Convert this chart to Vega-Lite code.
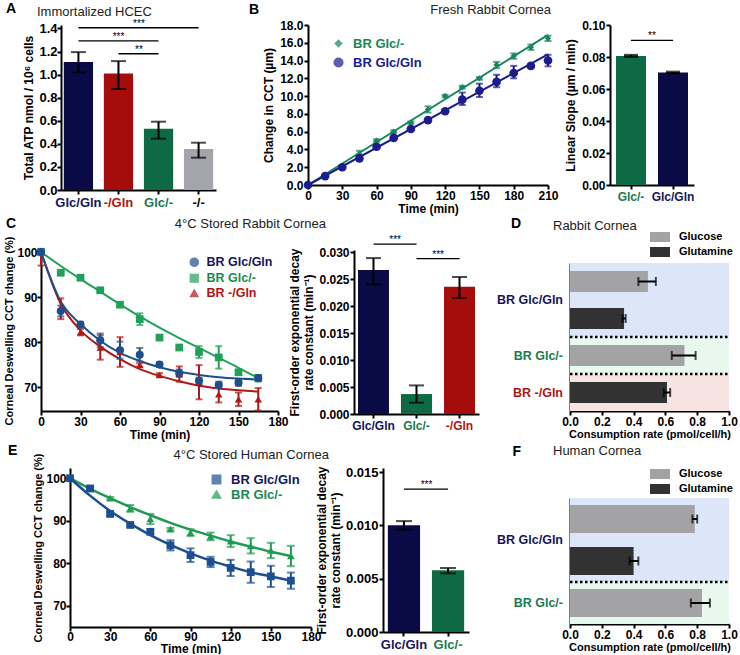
{
"$schema": "https://vega.github.io/schema/vega-lite/v6.json",
"padding": {"left": 3, "top": 2, "right": 0, "bottom": 0},
"background": "white",
"config": {
 "font": "Liberation Sans",
 "view": {"stroke": null},
 "axis": {"domainColor": "#000", "domainWidth": 2, "tickColor": "#000", "tickWidth": 2, "tickSize": 4, "labelFontSize": 12, "labelFontWeight": "bold", "labelColor": "#000", "labelPadding": 1, "titleFontSize": 12, "titleFontWeight": "bold", "titleColor": "#000", "titlePadding": 1, "grid": false, "labelFont": "Liberation Sans", "titleFont": "Liberation Sans", "labelOverlap": false, "labelFlush": false},
 "legend": {"labelFont": "Liberation Sans", "labelFontSize": 12.5, "labelFontWeight": "bold"},
 "title": {"font": "Liberation Sans", "fontSize": 13, "fontWeight": "normal", "color": "#222", "baseline": "alphabetic"},
 "text": {"font": "Liberation Sans"}
},
"datasets": {
 "A": [
  {"group": "Glc/Gln", "atp": 1.11, "lo": 1.02, "hi": 1.195},
  {"group": "-/Gln", "atp": 1.01, "lo": 0.875, "hi": 1.117},
  {"group": "Glc/-", "atp": 0.53, "lo": 0.445, "hi": 0.592},
  {"group": "-/-", "atp": 0.355, "lo": 0.28, "hi": 0.41}
 ],
 "Asig": [
  {"from": "Glc/Gln", "to": "-/-", "y": 1.406, "stars": "***", "mid": "-/Gln", "at": "edge"},
  {"from": "Glc/Gln", "to": "Glc/-", "y": 1.292, "stars": "***", "mid": "-/Gln", "at": "center"},
  {"from": "-/Gln", "to": "Glc/-", "y": 1.181, "stars": "**", "mid": "-/Gln", "at": "edge"}
 ],
 "Bfit": [
  {"series": "BR Glc/-", "t": 0, "y": 0}, {"series": "BR Glc/-", "t": 210, "y": 16.9},
  {"series": "BR Glc/Gln", "t": 0, "y": 0}, {"series": "BR Glc/Gln", "t": 210, "y": 14.7}
 ],
 "B": [
  {"series": "BR Glc/-", "t": 0, "y": 0, "lo": 0, "hi": 0},
  {"series": "BR Glc/-", "t": 15, "y": 1.0, "lo": 0.9, "hi": 1.1},
  {"series": "BR Glc/-", "t": 30, "y": 2.1, "lo": 2.0, "hi": 2.2},
  {"series": "BR Glc/-", "t": 45, "y": 3.5, "lo": 3.15, "hi": 3.85},
  {"series": "BR Glc/-", "t": 60, "y": 5.0, "lo": 4.85, "hi": 5.15},
  {"series": "BR Glc/-", "t": 75, "y": 6.0, "lo": 5.85, "hi": 6.15},
  {"series": "BR Glc/-", "t": 90, "y": 7.0, "lo": 6.85, "hi": 7.15},
  {"series": "BR Glc/-", "t": 105, "y": 8.5, "lo": 8.15, "hi": 8.85},
  {"series": "BR Glc/-", "t": 120, "y": 10.0, "lo": 9.85, "hi": 10.15},
  {"series": "BR Glc/-", "t": 135, "y": 11.0, "lo": 10.85, "hi": 11.15},
  {"series": "BR Glc/-", "t": 150, "y": 12.0, "lo": 11.85, "hi": 12.15},
  {"series": "BR Glc/-", "t": 165, "y": 13.5, "lo": 13.15, "hi": 13.85},
  {"series": "BR Glc/-", "t": 180, "y": 14.5, "lo": 14.2, "hi": 14.8},
  {"series": "BR Glc/-", "t": 195, "y": 15.5, "lo": 15.2, "hi": 15.8},
  {"series": "BR Glc/-", "t": 210, "y": 16.5, "lo": 16.2, "hi": 16.8},
  {"series": "BR Glc/Gln", "t": 0, "y": 0, "lo": 0, "hi": 0},
  {"series": "BR Glc/Gln", "t": 15, "y": 1.0, "lo": 0.9, "hi": 1.1},
  {"series": "BR Glc/Gln", "t": 30, "y": 2.0, "lo": 1.9, "hi": 2.1},
  {"series": "BR Glc/Gln", "t": 45, "y": 3.0, "lo": 2.75, "hi": 3.25},
  {"series": "BR Glc/Gln", "t": 60, "y": 4.3, "lo": 4.15, "hi": 4.45},
  {"series": "BR Glc/Gln", "t": 75, "y": 5.3, "lo": 5.15, "hi": 5.45},
  {"series": "BR Glc/Gln", "t": 90, "y": 6.3, "lo": 6.15, "hi": 6.45},
  {"series": "BR Glc/Gln", "t": 105, "y": 7.3, "lo": 7.15, "hi": 7.45},
  {"series": "BR Glc/Gln", "t": 120, "y": 8.3, "lo": 8.15, "hi": 8.45},
  {"series": "BR Glc/Gln", "t": 135, "y": 9.6, "lo": 9.0, "hi": 10.4},
  {"series": "BR Glc/Gln", "t": 150, "y": 10.6, "lo": 9.9, "hi": 11.4},
  {"series": "BR Glc/Gln", "t": 165, "y": 11.6, "lo": 11.0, "hi": 12.4},
  {"series": "BR Glc/Gln", "t": 180, "y": 12.6, "lo": 12.0, "hi": 13.4},
  {"series": "BR Glc/Gln", "t": 195, "y": 13.4, "lo": 13.15, "hi": 13.6},
  {"series": "BR Glc/Gln", "t": 210, "y": 14.0, "lo": 13.35, "hi": 14.65}
 ],
 "Bbar": [
  {"group": "Glc/-", "slope": 0.0807, "lo": 0.0802, "hi": 0.0812},
  {"group": "Glc/Gln", "slope": 0.0703, "lo": 0.0699, "hi": 0.0707}
 ],
 "Bsig": [{"from": "Glc/-", "to": "Glc/Gln", "y": 0.0904, "stars": "**", "mid": "Glc/-"}],
 "Cfit": [
  {"series": "BR -/Gln", "t": 0, "y": 100}, {"series": "BR -/Gln", "t": 15, "y": 88.5}, {"series": "BR -/Gln", "t": 30, "y": 82.6}, {"series": "BR -/Gln", "t": 45, "y": 79.0}, {"series": "BR -/Gln", "t": 60, "y": 76.2}, {"series": "BR -/Gln", "t": 75, "y": 74.0}, {"series": "BR -/Gln", "t": 90, "y": 72.5}, {"series": "BR -/Gln", "t": 105, "y": 71.3}, {"series": "BR -/Gln", "t": 120, "y": 70.3}, {"series": "BR -/Gln", "t": 135, "y": 69.7}, {"series": "BR -/Gln", "t": 150, "y": 69.3}, {"series": "BR -/Gln", "t": 165, "y": 69.0},
  {"series": "BR Glc/-", "t": 0, "y": 100}, {"series": "BR Glc/-", "t": 15, "y": 96.9}, {"series": "BR Glc/-", "t": 30, "y": 94.0}, {"series": "BR Glc/-", "t": 45, "y": 91.2}, {"series": "BR Glc/-", "t": 60, "y": 88.4}, {"series": "BR Glc/-", "t": 75, "y": 85.7}, {"series": "BR Glc/-", "t": 90, "y": 83.2}, {"series": "BR Glc/-", "t": 105, "y": 80.9}, {"series": "BR Glc/-", "t": 120, "y": 78.7}, {"series": "BR Glc/-", "t": 135, "y": 76.5}, {"series": "BR Glc/-", "t": 150, "y": 74.3}, {"series": "BR Glc/-", "t": 165, "y": 72.0},
  {"series": "BR Glc/Gln", "t": 0, "y": 100}, {"series": "BR Glc/Gln", "t": 15, "y": 89.0}, {"series": "BR Glc/Gln", "t": 30, "y": 84.0}, {"series": "BR Glc/Gln", "t": 45, "y": 80.3}, {"series": "BR Glc/Gln", "t": 60, "y": 77.6}, {"series": "BR Glc/Gln", "t": 75, "y": 75.8}, {"series": "BR Glc/Gln", "t": 90, "y": 74.4}, {"series": "BR Glc/Gln", "t": 105, "y": 73.4}, {"series": "BR Glc/Gln", "t": 120, "y": 72.7}, {"series": "BR Glc/Gln", "t": 135, "y": 72.2}, {"series": "BR Glc/Gln", "t": 150, "y": 71.9}, {"series": "BR Glc/Gln", "t": 165, "y": 71.7}
 ],
 "C": [
  {"series": "BR -/Gln", "t": 0, "y": 100, "lo": 97, "hi": 100},
  {"series": "BR -/Gln", "t": 15, "y": 87.4, "lo": 85.1, "hi": 89.7},
  {"series": "BR -/Gln", "t": 30, "y": 82.2, "lo": 81.5, "hi": 82.9},
  {"series": "BR -/Gln", "t": 45, "y": 78.8, "lo": 76.1, "hi": 81.5},
  {"series": "BR -/Gln", "t": 60, "y": 77.8, "lo": 74.5, "hi": 81.1},
  {"series": "BR -/Gln", "t": 75, "y": 74.9, "lo": 74.5, "hi": 75.3},
  {"series": "BR -/Gln", "t": 90, "y": 72.7, "lo": 72.3, "hi": 73.1},
  {"series": "BR -/Gln", "t": 105, "y": 72.9, "lo": 71.2, "hi": 74.6},
  {"series": "BR -/Gln", "t": 120, "y": 71.1, "lo": 67.3, "hi": 74.9},
  {"series": "BR -/Gln", "t": 135, "y": 68.4, "lo": 66.6, "hi": 70.2},
  {"series": "BR -/Gln", "t": 150, "y": 67.3, "lo": 65.8, "hi": 68.8},
  {"series": "BR -/Gln", "t": 165, "y": 67.3, "lo": 64.8, "hi": 69.8},
  {"series": "BR Glc/-", "t": 0, "y": 100, "lo": 100, "hi": 100},
  {"series": "BR Glc/-", "t": 15, "y": 95.4, "lo": 95.1, "hi": 95.7},
  {"series": "BR Glc/-", "t": 30, "y": 94.3, "lo": 94.0, "hi": 94.6},
  {"series": "BR Glc/-", "t": 45, "y": 91.5, "lo": 91.2, "hi": 91.8},
  {"series": "BR Glc/-", "t": 60, "y": 88.3, "lo": 88.0, "hi": 88.6},
  {"series": "BR Glc/-", "t": 75, "y": 85.1, "lo": 83.8, "hi": 86.4},
  {"series": "BR Glc/-", "t": 90, "y": 81.0, "lo": 80.7, "hi": 81.3},
  {"series": "BR Glc/-", "t": 105, "y": 78.8, "lo": 78.5, "hi": 79.1},
  {"series": "BR Glc/-", "t": 120, "y": 77.8, "lo": 76.5, "hi": 79.1},
  {"series": "BR Glc/-", "t": 135, "y": 76.6, "lo": 74.1, "hi": 79.1},
  {"series": "BR Glc/-", "t": 150, "y": 73.3, "lo": 72.8, "hi": 73.8},
  {"series": "BR Glc/-", "t": 165, "y": 72.0, "lo": 71.3, "hi": 72.7},
  {"series": "BR Glc/Gln", "t": 0, "y": 100, "lo": 99.3, "hi": 100.7},
  {"series": "BR Glc/Gln", "t": 15, "y": 86.9, "lo": 85.7, "hi": 88.1},
  {"series": "BR Glc/Gln", "t": 30, "y": 83.9, "lo": 83.3, "hi": 84.5},
  {"series": "BR Glc/Gln", "t": 45, "y": 80.4, "lo": 78.9, "hi": 81.9},
  {"series": "BR Glc/Gln", "t": 60, "y": 78.2, "lo": 76.3, "hi": 80.1},
  {"series": "BR Glc/Gln", "t": 75, "y": 77.2, "lo": 75.7, "hi": 78.7},
  {"series": "BR Glc/Gln", "t": 90, "y": 75.0, "lo": 74.5, "hi": 75.5},
  {"series": "BR Glc/Gln", "t": 105, "y": 73.1, "lo": 72.3, "hi": 73.9},
  {"series": "BR Glc/Gln", "t": 120, "y": 71.4, "lo": 70.7, "hi": 72.1},
  {"series": "BR Glc/Gln", "t": 135, "y": 70.5, "lo": 69.8, "hi": 71.2},
  {"series": "BR Glc/Gln", "t": 150, "y": 71.0, "lo": 70.3, "hi": 71.7},
  {"series": "BR Glc/Gln", "t": 165, "y": 72.0, "lo": 71.3, "hi": 72.7}
 ],
 "Cbar": [
  {"group": "Glc/Gln", "k": 0.0267, "lo": 0.0240, "hi": 0.0289},
  {"group": "Glc/-", "k": 0.0037, "lo": 0.0021, "hi": 0.0053},
  {"group": "-/Gln", "k": 0.0236, "lo": 0.0215, "hi": 0.0254}
 ],
 "Csig": [
  {"from": "Glc/Gln", "to": "Glc/-", "y": 0.0315, "stars": "***", "mid": "Glc/Gln"},
  {"from": "Glc/-", "to": "-/Gln", "y": 0.0288, "stars": "***", "mid": "Glc/-"}
 ],
 "D": [
  {"cond": "BR Glc/Gln", "bar": "Glc/Gln Glucose", "nutrient": "Glucose", "rate": 0.49, "lo": 0.43, "hi": 0.54},
  {"cond": "BR Glc/Gln", "bar": "Glc/Gln Glutamine", "nutrient": "Glutamine", "rate": 0.34, "lo": 0.33, "hi": 0.35},
  {"cond": "BR Glc/-", "bar": "Glc/- Glucose", "nutrient": "Glucose", "rate": 0.72, "lo": 0.64, "hi": 0.79},
  {"cond": "BR -/Gln", "bar": "-/Gln Glutamine", "nutrient": "Glutamine", "rate": 0.61, "lo": 0.59, "hi": 0.63}
 ],
 "Efit": [
  {"series": "BR Glc/-", "t": 0, "y": 100}, {"series": "BR Glc/-", "t": 15, "y": 97.5}, {"series": "BR Glc/-", "t": 30, "y": 95.3}, {"series": "BR Glc/-", "t": 45, "y": 93.2}, {"series": "BR Glc/-", "t": 60, "y": 91.3}, {"series": "BR Glc/-", "t": 75, "y": 89.5}, {"series": "BR Glc/-", "t": 90, "y": 87.9}, {"series": "BR Glc/-", "t": 105, "y": 86.5}, {"series": "BR Glc/-", "t": 120, "y": 85.1}, {"series": "BR Glc/-", "t": 135, "y": 83.9}, {"series": "BR Glc/-", "t": 150, "y": 82.7}, {"series": "BR Glc/-", "t": 165, "y": 81.7},
  {"series": "BR Glc/Gln", "t": 0, "y": 100}, {"series": "BR Glc/Gln", "t": 15, "y": 95.9}, {"series": "BR Glc/Gln", "t": 30, "y": 92.3}, {"series": "BR Glc/Gln", "t": 45, "y": 89.3}, {"series": "BR Glc/Gln", "t": 60, "y": 86.6}, {"series": "BR Glc/Gln", "t": 75, "y": 84.3}, {"series": "BR Glc/Gln", "t": 90, "y": 82.3}, {"series": "BR Glc/Gln", "t": 105, "y": 80.6}, {"series": "BR Glc/Gln", "t": 120, "y": 79.2}, {"series": "BR Glc/Gln", "t": 135, "y": 77.9}, {"series": "BR Glc/Gln", "t": 150, "y": 76.9}, {"series": "BR Glc/Gln", "t": 165, "y": 75.9}
 ],
 "E": [
  {"series": "BR Glc/-", "t": 0, "y": 100, "lo": 100, "hi": 100},
  {"series": "BR Glc/-", "t": 15, "y": 97.5, "lo": 97.2, "hi": 97.8},
  {"series": "BR Glc/-", "t": 30, "y": 95.3, "lo": 95.0, "hi": 95.6},
  {"series": "BR Glc/-", "t": 45, "y": 92.9, "lo": 92.1, "hi": 93.7},
  {"series": "BR Glc/-", "t": 60, "y": 90.4, "lo": 89.2, "hi": 91.6},
  {"series": "BR Glc/-", "t": 75, "y": 88.0, "lo": 87.7, "hi": 88.3},
  {"series": "BR Glc/-", "t": 90, "y": 87.2, "lo": 86.4, "hi": 88.0},
  {"series": "BR Glc/-", "t": 105, "y": 86.3, "lo": 85.4, "hi": 87.2},
  {"series": "BR Glc/-", "t": 120, "y": 85.2, "lo": 83.8, "hi": 86.6},
  {"series": "BR Glc/-", "t": 135, "y": 84.1, "lo": 82.3, "hi": 85.9},
  {"series": "BR Glc/-", "t": 150, "y": 83.0, "lo": 81.2, "hi": 84.8},
  {"series": "BR Glc/-", "t": 165, "y": 81.7, "lo": 79.3, "hi": 84.1},
  {"series": "BR Glc/Gln", "t": 0, "y": 100, "lo": 100, "hi": 100},
  {"series": "BR Glc/Gln", "t": 15, "y": 97.6, "lo": 97.3, "hi": 97.9},
  {"series": "BR Glc/Gln", "t": 30, "y": 91.6, "lo": 91.1, "hi": 92.1},
  {"series": "BR Glc/Gln", "t": 45, "y": 89.0, "lo": 88.7, "hi": 89.3},
  {"series": "BR Glc/Gln", "t": 60, "y": 87.4, "lo": 86.9, "hi": 87.9},
  {"series": "BR Glc/Gln", "t": 75, "y": 84.2, "lo": 83.0, "hi": 85.4},
  {"series": "BR Glc/Gln", "t": 90, "y": 81.9, "lo": 80.3, "hi": 83.5},
  {"series": "BR Glc/Gln", "t": 105, "y": 80.3, "lo": 79.1, "hi": 81.5},
  {"series": "BR Glc/Gln", "t": 120, "y": 78.9, "lo": 77.0, "hi": 80.8},
  {"series": "BR Glc/Gln", "t": 135, "y": 77.9, "lo": 75.4, "hi": 80.4},
  {"series": "BR Glc/Gln", "t": 150, "y": 76.9, "lo": 74.4, "hi": 79.4},
  {"series": "BR Glc/Gln", "t": 165, "y": 75.9, "lo": 74.0, "hi": 77.8}
 ],
 "Ebar": [
  {"group": "Glc/Gln", "k": 0.0100, "lo": 0.0096, "hi": 0.0104},
  {"group": "Glc/-", "k": 0.0058, "lo": 0.0055, "hi": 0.0060}
 ],
 "Esig": [{"from": "Glc/Gln", "to": "Glc/-", "y": 0.0134, "stars": "***", "mid": "Glc/Gln"}],
 "F": [
  {"cond": "BR Glc/Gln", "bar": "Glc/Gln Glucose", "nutrient": "Glucose", "rate": 0.785, "lo": 0.77, "hi": 0.80},
  {"cond": "BR Glc/Gln", "bar": "Glc/Gln Glutamine", "nutrient": "Glutamine", "rate": 0.40, "lo": 0.375, "hi": 0.43},
  {"cond": "BR Glc/-", "bar": "Glc/- Glucose", "nutrient": "Glucose", "rate": 0.83, "lo": 0.76, "hi": 0.88}
 ]
},
"spacing": 3,
"resolve": {"scale": {"color": "independent", "shape": "independent", "size": "independent", "fill": "independent"}, "legend": {"color": "independent", "shape": "independent", "size": "independent", "fill": "independent"}},
"vconcat": [
 {
  "title": {"text": "A", "anchor": "start", "frame": "bounds", "offset": -13, "dx": -17, "fontSize": 14, "fontWeight": "bold", "color": "#000"},
  "bounds": "flush",
  "spacing": 62,
  "resolve": {"scale": {"color": "independent", "shape": "independent", "size": "independent", "fill": "independent"}, "legend": {"color": "independent", "shape": "independent", "size": "independent", "fill": "independent"}},
  "hconcat": [
   {
    "width": 205, "height": 165,
    "title": {"text": "Immortalized HCEC", "anchor": "start", "frame": "group", "dx": -4, "offset": 0},
    "layer": [
     {"data": {"name": "A"}, "mark": {"type": "bar"},
      "encoding": {
       "x": {"field": "group", "type": "nominal", "scale": {"domain": ["Glc/Gln", "-/Gln", "Glc/-", "-/-"], "range": [20, 175], "paddingInner": 0.27, "paddingOuter": 0.07}, "axis": {"title": null, "labelAngle": 0, "labelFontSize": 13, "labelPadding": 2, "labelColor": {"expr": "datum.value == 'Glc/Gln' ? '#15155e' : datum.value == '-/Gln' ? '#b01414' : datum.value == 'Glc/-' ? '#1a7a50' : '#000'"}}},
       "y": {"field": "atp", "type": "quantitative", "scale": {"domain": [0, 1.43], "nice": false}, "axis": {"title": "Total ATP nmol / 10⁶ cells", "values": [0, 0.2, 0.4, 0.6, 0.8, 1.0, 1.2, 1.4], "tickCount": 30, "format": ".1f", "offset": -20, "labelFontSize": 13, "labelPadding": 0, "titlePadding": 3, "labelOverlap": false}},
       "color": {"field": "group", "type": "nominal", "scale": {"domain": ["Glc/Gln", "-/Gln", "Glc/-", "-/-"], "range": ["#0a0a47", "#a50d0d", "#0d6a45", "#a4a4ab"]}, "legend": null}
      }},
     {"data": {"name": "A"}, "mark": {"type": "rule", "strokeWidth": 2, "color": "#000"},
      "encoding": {"x": {"field": "group", "type": "nominal"}, "y": {"field": "lo", "type": "quantitative"}, "y2": {"field": "hi"}}},
     {"data": {"name": "A"}, "mark": {"type": "tick", "thickness": 2, "size": 15, "color": "#000"},
      "encoding": {"x": {"field": "group", "type": "nominal"}, "y": {"field": "lo", "type": "quantitative"}}},
     {"data": {"name": "A"}, "mark": {"type": "tick", "thickness": 2, "size": 15, "color": "#000"},
      "encoding": {"x": {"field": "group", "type": "nominal"}, "y": {"field": "hi", "type": "quantitative"}}},
     {"data": {"name": "Asig"}, "mark": {"type": "rule", "strokeWidth": 1.3, "color": "#000"},
      "encoding": {"x": {"field": "from", "type": "nominal"}, "x2": {"field": "to"}, "y": {"field": "y", "type": "quantitative"}}},
     {"data": {"name": "Asig"}, "transform": [{"filter": "datum.at == 'edge'"}], "mark": {"type": "text", "baseline": "bottom", "fontSize": 10, "dy": 1, "color": "#000"},
      "encoding": {"x": {"field": "mid", "type": "nominal", "bandPosition": 1.2}, "y": {"field": "y", "type": "quantitative"}, "text": {"field": "stars"}}},
     {"data": {"name": "Asig"}, "transform": [{"filter": "datum.at == 'center'"}], "mark": {"type": "text", "baseline": "bottom", "fontSize": 10, "dy": 1, "color": "#000"},
      "encoding": {"x": {"field": "mid", "type": "nominal"}, "y": {"field": "y", "type": "quantitative"}, "text": {"field": "stars"}}}
    ]
   },
   {
    "width": 240, "height": 160,
    "title": {"text": "Fresh Rabbit Cornea", "anchor": "end", "frame": "group", "dx": 3, "offset": 2},
    "layer": [
     {"data": {"name": "Bfit"}, "mark": {"type": "line", "strokeWidth": 2},
      "encoding": {
       "x": {"field": "t", "type": "quantitative", "scale": {"domain": [0, 210], "nice": false}, "axis": {"title": "Time (min)", "values": [0, 30, 60, 90, 120, 150, 180, 210], "tickCount": 30, "titlePadding": 2, "labelOverlap": false}},
       "y": {"field": "y", "type": "quantitative", "scale": {"domain": [0, 18], "nice": false}, "axis": {"title": "Change in CCT (µm)", "values": [0, 2, 4, 6, 8, 10, 12, 14, 16, 18], "tickCount": 30, "titlePadding": 4, "labelOverlap": false}},
       "color": {"field": "series", "type": "nominal", "scale": {"domain": ["BR Glc/-", "BR Glc/Gln"], "range": ["#17865c", "#1c1c8e"]}}
      }},
     {"data": {"name": "B"}, "mark": {"type": "rule", "strokeWidth": 2},
      "encoding": {"x": {"field": "t", "type": "quantitative"}, "y": {"field": "lo", "type": "quantitative"}, "y2": {"field": "hi"}, "color": {"field": "series", "type": "nominal"}}},
     {"data": {"name": "B"}, "mark": {"type": "tick", "orient": "horizontal", "size": 7, "thickness": 2},
      "encoding": {"x": {"field": "t", "type": "quantitative"}, "y": {"field": "lo", "type": "quantitative"}, "color": {"field": "series", "type": "nominal"}}},
     {"data": {"name": "B"}, "mark": {"type": "tick", "orient": "horizontal", "size": 7, "thickness": 2},
      "encoding": {"x": {"field": "t", "type": "quantitative"}, "y": {"field": "hi", "type": "quantitative"}, "color": {"field": "series", "type": "nominal"}}},
     {"data": {"name": "B"}, "mark": {"type": "point", "filled": true, "opacity": 1},
      "encoding": {
       "x": {"field": "t", "type": "quantitative"}, "y": {"field": "y", "type": "quantitative"},
       "color": {"field": "series", "type": "nominal", "legend": {"title": null, "orient": "none", "legendX": 24, "legendY": 12, "labelFontSize": 13, "labelColor": {"expr": "datum.label == 'BR Glc/-' ? '#17865c' : '#1c1c8e'"}, "symbolSize": 70, "rowPadding": 4, "labelOffset": 8}},
       "shape": {"field": "series", "type": "nominal", "scale": {"domain": ["BR Glc/-", "BR Glc/Gln"], "range": ["diamond", "circle"]}, "legend": {"title": null, "orient": "none", "legendX": 24, "legendY": 12, "labelFontSize": 13, "labelColor": {"expr": "datum.label == 'BR Glc/-' ? '#17865c' : '#1c1c8e'"}, "symbolSize": 70, "rowPadding": 4, "labelOffset": 8}},
       "size": {"field": "series", "type": "nominal", "scale": {"domain": ["BR Glc/-", "BR Glc/Gln"], "range": [40, 75]}, "legend": null}
      }}
    ]
   },
   {
    "width": 84, "height": 160,
    "title": {"text": "B", "anchor": "start", "frame": "group", "dx": -361, "offset": 2, "fontSize": 14, "fontWeight": "bold", "color": "#000"},
    "layer": [
     {"data": {"name": "Bbar"}, "mark": {"type": "bar"},
      "encoding": {
       "x": {"field": "group", "type": "nominal", "scale": {"domain": ["Glc/-", "Glc/Gln"], "paddingInner": 0.286, "paddingOuter": 0.143}, "axis": {"title": null, "labelAngle": 0, "labelPadding": 2, "labelColor": {"expr": "datum.value == 'Glc/-' ? '#1a7a50' : '#15155e'"}}},
       "y": {"field": "slope", "type": "quantitative", "scale": {"domain": [0, 0.1], "nice": false}, "axis": {"title": "Linear Slope (µm / min)", "values": [0, 0.02, 0.04, 0.06, 0.08, 0.1], "tickCount": 30, "format": ".2f", "titlePadding": 4, "labelOverlap": false}},
       "color": {"field": "group", "type": "nominal", "scale": {"domain": ["Glc/-", "Glc/Gln"], "range": ["#0d6a45", "#0a0a47"]}, "legend": null}
      }},
     {"data": {"name": "Bbar"}, "mark": {"type": "rule", "strokeWidth": 2, "color": "#000"},
      "encoding": {"x": {"field": "group", "type": "nominal"}, "y": {"field": "lo", "type": "quantitative"}, "y2": {"field": "hi"}}},
     {"data": {"name": "Bbar"}, "mark": {"type": "tick", "thickness": 2.5, "size": 14, "color": "#000"},
      "encoding": {"x": {"field": "group", "type": "nominal"}, "y": {"field": "lo", "type": "quantitative"}}},
     {"data": {"name": "Bbar"}, "mark": {"type": "tick", "thickness": 2.5, "size": 14, "color": "#000"},
      "encoding": {"x": {"field": "group", "type": "nominal"}, "y": {"field": "hi", "type": "quantitative"}}},
     {"data": {"name": "Bsig"}, "mark": {"type": "rule", "strokeWidth": 1.3, "color": "#000"},
      "encoding": {"x": {"field": "from", "type": "nominal"}, "x2": {"field": "to"}, "y": {"field": "y", "type": "quantitative"}}},
     {"data": {"name": "Bsig"}, "mark": {"type": "text", "baseline": "bottom", "fontSize": 10, "dy": 1, "color": "#000"},
      "encoding": {"x": {"field": "mid", "type": "nominal", "bandPosition": 1.2}, "y": {"field": "y", "type": "quantitative"}, "text": {"field": "stars"}}}
    ]
   }
  ]
 },
 {
  "title": {"text": "C", "anchor": "start", "frame": "bounds", "offset": -14, "dx": 2, "fontSize": 14, "fontWeight": "bold", "color": "#000"},
  "bounds": "flush",
  "spacing": 76,
  "resolve": {"scale": {"color": "independent", "shape": "independent", "size": "independent", "fill": "independent"}, "legend": {"color": "independent", "shape": "independent", "size": "independent", "fill": "independent"}},
  "hconcat": [
   {
    "width": 237, "height": 161,
    "title": {"text": "4°C Stored Rabbit Cornea", "anchor": "end", "frame": "group", "dx": 48, "offset": 5},
    "layer": [
     {"data": {"name": "Cfit"}, "mark": {"type": "line", "strokeWidth": 2, "interpolate": "monotone"},
      "encoding": {
       "x": {"field": "t", "type": "quantitative", "scale": {"domain": [0, 180], "nice": false}, "axis": {"title": "Time (min)", "values": [0, 30, 60, 90, 120, 150, 180], "tickCount": 30, "titlePadding": 2, "labelOverlap": false}},
       "y": {"field": "y", "type": "quantitative", "scale": {"domain": [64.7, 100.45], "nice": false, "zero": false}, "axis": {"title": "Corneal Deswelling CCT change (%)", "titleFontSize": 11, "values": [70, 80, 90, 100], "tickCount": 30, "labelPadding": 0, "titlePadding": 2, "labelOverlap": false}},
       "color": {"field": "series", "type": "nominal", "scale": {"domain": ["BR Glc/Gln", "BR Glc/-", "BR -/Gln"], "range": ["#1f4f8b", "#22a05a", "#b01818"]}}
      }},
     {"data": {"name": "C"}, "mark": {"type": "rule", "strokeWidth": 2},
      "encoding": {"x": {"field": "t", "type": "quantitative"}, "y": {"field": "lo", "type": "quantitative"}, "y2": {"field": "hi"}, "color": {"field": "series", "type": "nominal"}}},
     {"data": {"name": "C"}, "mark": {"type": "tick", "orient": "horizontal", "size": 7, "thickness": 2},
      "encoding": {"x": {"field": "t", "type": "quantitative"}, "y": {"field": "lo", "type": "quantitative"}, "color": {"field": "series", "type": "nominal"}}},
     {"data": {"name": "C"}, "mark": {"type": "tick", "orient": "horizontal", "size": 7, "thickness": 2},
      "encoding": {"x": {"field": "t", "type": "quantitative"}, "y": {"field": "hi", "type": "quantitative"}, "color": {"field": "series", "type": "nominal"}}},
     {"data": {"name": "C"}, "mark": {"type": "point", "filled": true, "opacity": 1},
      "encoding": {
       "x": {"field": "t", "type": "quantitative"}, "y": {"field": "y", "type": "quantitative"},
       "color": {"field": "series", "type": "nominal", "legend": {"title": null, "orient": "none", "legendX": 147, "legendY": 6, "labelFontSize": 12.5, "labelColor": {"expr": "datum.label == 'BR Glc/-' ? '#1a8a50' : datum.label == 'BR -/Gln' ? '#b01414' : '#15155e'"}, "symbolSize": 60, "rowPadding": 1, "labelOffset": 6}},
       "shape": {"field": "series", "type": "nominal", "scale": {"domain": ["BR Glc/Gln", "BR Glc/-", "BR -/Gln"], "range": ["circle", "square", "triangle-up"]}, "legend": {"title": null, "orient": "none", "legendX": 147, "legendY": 6, "labelFontSize": 12.5, "labelColor": {"expr": "datum.label == 'BR Glc/-' ? '#1a8a50' : datum.label == 'BR -/Gln' ? '#b01414' : '#15155e'"}, "symbolSize": 60, "rowPadding": 1, "labelOffset": 6}},
       "size": {"field": "series", "type": "nominal", "scale": {"domain": ["BR Glc/Gln", "BR Glc/-", "BR -/Gln"], "range": [65, 55, 45]}, "legend": null}
      }}
    ]
   },
   {
    "width": 140, "height": 164,
    "title": {"text": "D", "anchor": "end", "frame": "group", "dx": 27, "offset": 4, "fontSize": 14, "fontWeight": "bold", "color": "#000"},
    "layer": [
     {"data": {"name": "Cbar"}, "mark": {"type": "bar"},
      "encoding": {
       "x": {"field": "group", "type": "nominal", "scale": {"domain": ["Glc/Gln", "Glc/-", "-/Gln"], "range": [0, 125], "paddingInner": 0.28, "paddingOuter": 0.093}, "axis": {"title": null, "labelAngle": 0, "labelPadding": 2, "labelColor": {"expr": "datum.value == 'Glc/Gln' ? '#15155e' : datum.value == '-/Gln' ? '#b01414' : '#1a7a50'"}}},
       "y": {"field": "k", "type": "quantitative", "scale": {"domain": [0, 0.0304], "nice": false}, "axis": {"title": ["First-order exponential decay", "rate constant (min⁻¹)"], "values": [0, 0.005, 0.01, 0.015, 0.02, 0.025, 0.03], "tickCount": 30, "format": ".3f", "titlePadding": 3, "labelOverlap": false}},
       "color": {"field": "group", "type": "nominal", "scale": {"domain": ["Glc/Gln", "Glc/-", "-/Gln"], "range": ["#0a0a47", "#0d6a45", "#a50d0d"]}, "legend": null}
      }},
     {"data": {"name": "Cbar"}, "mark": {"type": "rule", "strokeWidth": 2, "color": "#000"},
      "encoding": {"x": {"field": "group", "type": "nominal"}, "y": {"field": "lo", "type": "quantitative"}, "y2": {"field": "hi"}}},
     {"data": {"name": "Cbar"}, "mark": {"type": "tick", "thickness": 2, "size": 15, "color": "#000"},
      "encoding": {"x": {"field": "group", "type": "nominal"}, "y": {"field": "lo", "type": "quantitative"}}},
     {"data": {"name": "Cbar"}, "mark": {"type": "tick", "thickness": 2, "size": 15, "color": "#000"},
      "encoding": {"x": {"field": "group", "type": "nominal"}, "y": {"field": "hi", "type": "quantitative"}}},
     {"data": {"name": "Csig"}, "mark": {"type": "rule", "strokeWidth": 1.3, "color": "#000"},
      "encoding": {"x": {"field": "from", "type": "nominal"}, "x2": {"field": "to"}, "y": {"field": "y", "type": "quantitative"}}},
     {"data": {"name": "Csig"}, "mark": {"type": "text", "baseline": "bottom", "fontSize": 10, "dy": 1, "color": "#000"},
      "encoding": {"x": {"field": "mid", "type": "nominal", "bandPosition": 1.2}, "y": {"field": "y", "type": "quantitative"}, "text": {"field": "stars"}}}
    ]
   },
   {
    "width": 159, "height": 161,
    "title": {"text": "Rabbit Cornea", "anchor": "start", "frame": "group", "dx": -17, "offset": -6},
    "data": {"name": "D"},
    "layer": [
     {"mark": {"type": "bar"},
      "encoding": {
       "x": {"datum": 0, "type": "quantitative"}, "x2": {"datum": 1},
       "y": {"field": "bar", "type": "nominal", "scale": {"domain": ["Glc/Gln Glucose", "Glc/Gln Glutamine", "Glc/- Glucose", "-/Gln Glutamine"], "range": [13, 161], "paddingInner": 0, "paddingOuter": 0}, "axis": {"title": null, "labels": false, "ticks": false}},
       "fill": {"field": "cond", "type": "nominal", "scale": {"domain": ["BR Glc/Gln", "BR Glc/-", "BR -/Gln"], "range": ["#dce6f8", "#e8f8ef", "#f8e3e3"]}, "legend": null}
      }},
     {"transform": [{"filter": "datum.bar == 'Glc/- Glucose' || datum.bar == '-/Gln Glutamine'"}], "mark": {"type": "rule", "strokeDash": [2.5, 2.5], "strokeWidth": 2.5, "color": "#000"},
      "encoding": {"x": {"datum": 0, "type": "quantitative"}, "x2": {"datum": 1}, "y": {"field": "bar", "type": "nominal", "bandPosition": 0}}},
     {"mark": {"type": "bar", "height": {"band": 0.57}},
      "encoding": {
       "x": {"field": "rate", "type": "quantitative", "scale": {"domain": [0, 1], "nice": false}, "axis": {"title": "Consumption rate (pmol/cell/h)", "titleFontSize": 11, "values": [0, 0.2, 0.4, 0.6, 0.8, 1], "tickCount": 30, "format": ".1f", "titlePadding": 1, "labelOverlap": false}},
       "y": {"field": "bar", "type": "nominal"},
       "color": {"field": "nutrient", "type": "nominal", "scale": {"domain": ["Glucose", "Glutamine"], "range": ["#a3a3a6", "#323232"]}, "legend": {"title": null, "orient": "none", "legendX": 80, "legendY": -23, "symbolType": "M-1,-0.5H1V0.5H-1Z", "symbolSize": 400, "symbolStrokeWidth": 0, "labelFontSize": 11, "labelColor": "#000", "rowPadding": 0, "labelOffset": 9}}
      }},
     {"mark": {"type": "rule", "strokeWidth": 2, "color": "#000"},
      "encoding": {"x": {"field": "lo", "type": "quantitative"}, "x2": {"field": "hi"}, "y": {"field": "bar", "type": "nominal"}}},
     {"mark": {"type": "tick", "thickness": 2, "size": 9, "color": "#000"},
      "encoding": {"x": {"field": "lo", "type": "quantitative"}, "y": {"field": "bar", "type": "nominal"}}},
     {"mark": {"type": "tick", "thickness": 2, "size": 9, "color": "#000"},
      "encoding": {"x": {"field": "hi", "type": "quantitative"}, "y": {"field": "bar", "type": "nominal"}}},
     {"transform": [{"filter": "datum.bar == 'Glc/Gln Glucose'"}], "mark": {"type": "text", "align": "right", "baseline": "middle", "dx": -7, "fontSize": 12.5, "fontWeight": "bold"},
      "encoding": {"x": {"datum": 0, "type": "quantitative"}, "y": {"field": "bar", "type": "nominal", "bandPosition": 1}, "text": {"field": "cond"}, "color": {"value": "#15155e"}}},
     {"transform": [{"filter": "datum.cond != 'BR Glc/Gln'"}], "mark": {"type": "text", "align": "right", "baseline": "middle", "dx": -7, "fontSize": 12.5, "fontWeight": "bold"},
      "encoding": {"x": {"datum": 0, "type": "quantitative"}, "y": {"field": "bar", "type": "nominal"}, "text": {"field": "cond"}, "color": {"condition": {"test": "datum.cond == 'BR Glc/-'", "value": "#1a7a50"}, "value": "#b01414"}}}
    ]
   }
  ]
 },
 {
  "title": {"text": "E", "anchor": "start", "frame": "bounds", "offset": -13, "dx": -25, "fontSize": 14, "fontWeight": "bold", "color": "#000"},
  "bounds": "flush",
  "spacing": 72,
  "resolve": {"scale": {"color": "independent", "shape": "independent", "size": "independent", "fill": "independent"}, "legend": {"color": "independent", "shape": "independent", "size": "independent", "fill": "independent"}},
  "hconcat": [
   {
    "width": 270, "height": 159,
    "title": {"text": "4°C Stored Human Cornea", "anchor": "end", "frame": "group", "dx": 18, "offset": -9},
    "layer": [
     {"data": {"name": "Efit"}, "mark": {"type": "line", "strokeWidth": 2.5, "interpolate": "monotone"},
      "encoding": {
       "x": {"field": "t", "type": "quantitative", "scale": {"domain": [0, 180], "range": [29, 270], "nice": false}, "axis": {"title": "Time (min)", "values": [0, 30, 60, 90, 120, 150, 180], "tickCount": 30, "labelPadding": 0, "titlePadding": 1, "labelOverlap": false}},
       "y": {"field": "y", "type": "quantitative", "scale": {"domain": [65, 102.4], "nice": false, "zero": false}, "axis": {"title": "Corneal Deswelling CCT change (%)", "titleFontSize": 11, "values": [70, 80, 90, 100], "tickCount": 30, "offset": -29, "labelPadding": 0, "titlePadding": 2, "labelOverlap": false}},
       "color": {"field": "series", "type": "nominal", "scale": {"domain": ["BR Glc/Gln", "BR Glc/-"], "range": ["#1c4f92", "#1f9c52"]}}
      }},
     {"data": {"name": "E"}, "mark": {"type": "rule", "strokeWidth": 2},
      "encoding": {"x": {"field": "t", "type": "quantitative"}, "y": {"field": "lo", "type": "quantitative"}, "y2": {"field": "hi"}, "color": {"field": "series", "type": "nominal"}}},
     {"data": {"name": "E"}, "mark": {"type": "tick", "orient": "horizontal", "size": 8, "thickness": 2},
      "encoding": {"x": {"field": "t", "type": "quantitative"}, "y": {"field": "lo", "type": "quantitative"}, "color": {"field": "series", "type": "nominal"}}},
     {"data": {"name": "E"}, "mark": {"type": "tick", "orient": "horizontal", "size": 8, "thickness": 2},
      "encoding": {"x": {"field": "t", "type": "quantitative"}, "y": {"field": "hi", "type": "quantitative"}, "color": {"field": "series", "type": "nominal"}}},
     {"data": {"name": "E"}, "mark": {"type": "point", "filled": true, "opacity": 1, "size": 60},
      "encoding": {
       "x": {"field": "t", "type": "quantitative"}, "y": {"field": "y", "type": "quantitative"},
       "color": {"field": "series", "type": "nominal", "legend": {"title": null, "orient": "none", "legendX": 169, "legendY": 5, "labelFontSize": 13, "labelColor": {"expr": "datum.label == 'BR Glc/-' ? '#1a8a50' : '#15155e'"}, "symbolSize": 70, "rowPadding": 0, "labelOffset": 8}},
       "shape": {"field": "series", "type": "nominal", "scale": {"domain": ["BR Glc/Gln", "BR Glc/-"], "range": ["square", "triangle-up"]}, "legend": {"title": null, "orient": "none", "legendX": 169, "legendY": 5, "labelFontSize": 13, "labelColor": {"expr": "datum.label == 'BR Glc/-' ? '#1a8a50' : '#15155e'"}, "symbolSize": 70, "rowPadding": 0, "labelOffset": 8}}
      }}
    ]
   },
   {
    "width": 115, "height": 164,
    "title": {"text": "F", "anchor": "end", "frame": "group", "dx": 23, "offset": 7, "fontSize": 14, "fontWeight": "bold", "color": "#000"},
    "layer": [
     {"data": {"name": "Ebar"}, "mark": {"type": "bar"},
      "encoding": {
       "x": {"field": "group", "type": "nominal", "scale": {"domain": ["Glc/Gln", "Glc/-"], "range": [0, 86], "paddingInner": 0.27, "paddingOuter": 0.11}, "axis": {"title": null, "labelAngle": 0, "labelPadding": 2, "labelFontSize": 13, "labelColor": {"expr": "datum.value == 'Glc/Gln' ? '#15155e' : '#1a7a50'"}}},
       "y": {"field": "k", "type": "quantitative", "scale": {"domain": [0, 0.01538], "nice": false}, "axis": {"title": ["First-order exponential decay", "rate constant (min⁻¹)"], "values": [0, 0.005, 0.01, 0.015], "tickCount": 30, "format": ".3f", "labelFontSize": 13, "titlePadding": 3, "labelOverlap": false}},
       "color": {"field": "group", "type": "nominal", "scale": {"domain": ["Glc/Gln", "Glc/-"], "range": ["#0a0a47", "#0d6a45"]}, "legend": null}
      }},
     {"data": {"name": "Ebar"}, "mark": {"type": "rule", "strokeWidth": 2, "color": "#000"},
      "encoding": {"x": {"field": "group", "type": "nominal"}, "y": {"field": "lo", "type": "quantitative"}, "y2": {"field": "hi"}}},
     {"data": {"name": "Ebar"}, "mark": {"type": "tick", "thickness": 2, "size": 16, "color": "#000"},
      "encoding": {"x": {"field": "group", "type": "nominal"}, "y": {"field": "lo", "type": "quantitative"}}},
     {"data": {"name": "Ebar"}, "mark": {"type": "tick", "thickness": 2, "size": 16, "color": "#000"},
      "encoding": {"x": {"field": "group", "type": "nominal"}, "y": {"field": "hi", "type": "quantitative"}}},
     {"data": {"name": "Esig"}, "mark": {"type": "rule", "strokeWidth": 1.3, "color": "#000"},
      "encoding": {"x": {"field": "from", "type": "nominal"}, "x2": {"field": "to"}, "y": {"field": "y", "type": "quantitative"}}},
     {"data": {"name": "Esig"}, "mark": {"type": "text", "baseline": "bottom", "fontSize": 10, "dy": 1, "color": "#000"},
      "encoding": {"x": {"field": "mid", "type": "nominal", "bandPosition": 1.2}, "y": {"field": "y", "type": "quantitative"}, "text": {"field": "stars"}}}
    ]
   },
   {
    "width": 159, "height": 156,
    "title": {"text": "Human Cornea", "anchor": "start", "frame": "group", "dx": -17, "offset": 6},
    "data": {"name": "F"},
    "layer": [
     {"mark": {"type": "bar"},
      "encoding": {
       "x": {"datum": 0, "type": "quantitative"}, "x2": {"datum": 1},
       "y": {"field": "bar", "type": "nominal", "scale": {"domain": ["Glc/Gln Glucose", "Glc/Gln Glutamine", "Glc/- Glucose"], "range": [30, 156], "paddingInner": 0, "paddingOuter": 0}, "axis": {"title": null, "labels": false, "ticks": false}},
       "fill": {"field": "cond", "type": "nominal", "scale": {"domain": ["BR Glc/Gln", "BR Glc/-"], "range": ["#dce6f8", "#e8f8ef"]}, "legend": null}
      }},
     {"transform": [{"filter": "datum.bar == 'Glc/- Glucose'"}], "mark": {"type": "rule", "strokeDash": [2.5, 2.5], "strokeWidth": 2.5, "color": "#000"},
      "encoding": {"x": {"datum": 0, "type": "quantitative"}, "x2": {"datum": 1}, "y": {"field": "bar", "type": "nominal", "bandPosition": 0}}},
     {"mark": {"type": "bar", "height": {"band": 0.67}},
      "encoding": {
       "x": {"field": "rate", "type": "quantitative", "scale": {"domain": [0, 1], "nice": false}, "axis": {"title": "Consumption rate (pmol/cell/h)", "titleFontSize": 11, "values": [0, 0.2, 0.4, 0.6, 0.8, 1], "tickCount": 30, "format": ".1f", "titlePadding": 1, "labelOverlap": false}},
       "y": {"field": "bar", "type": "nominal"},
       "color": {"field": "nutrient", "type": "nominal", "scale": {"domain": ["Glucose", "Glutamine"], "range": ["#a3a3a6", "#323232"]}, "legend": {"title": null, "orient": "none", "legendX": 80, "legendY": -4, "symbolType": "M-1,-0.5H1V0.5H-1Z", "symbolSize": 400, "symbolStrokeWidth": 0, "labelFontSize": 11, "labelColor": "#000", "rowPadding": 0, "labelOffset": 9}}
      }},
     {"mark": {"type": "rule", "strokeWidth": 2, "color": "#000"},
      "encoding": {"x": {"field": "lo", "type": "quantitative"}, "x2": {"field": "hi"}, "y": {"field": "bar", "type": "nominal"}}},
     {"mark": {"type": "tick", "thickness": 2, "size": 9, "color": "#000"},
      "encoding": {"x": {"field": "lo", "type": "quantitative"}, "y": {"field": "bar", "type": "nominal"}}},
     {"mark": {"type": "tick", "thickness": 2, "size": 9, "color": "#000"},
      "encoding": {"x": {"field": "hi", "type": "quantitative"}, "y": {"field": "bar", "type": "nominal"}}},
     {"transform": [{"filter": "datum.bar == 'Glc/Gln Glucose'"}], "mark": {"type": "text", "align": "right", "baseline": "middle", "dx": -7, "fontSize": 12.5, "fontWeight": "bold"},
      "encoding": {"x": {"datum": 0, "type": "quantitative"}, "y": {"field": "bar", "type": "nominal", "bandPosition": 1}, "text": {"field": "cond"}, "color": {"value": "#15155e"}}},
     {"transform": [{"filter": "datum.cond != 'BR Glc/Gln'"}], "mark": {"type": "text", "align": "right", "baseline": "middle", "dx": -7, "fontSize": 12.5, "fontWeight": "bold"},
      "encoding": {"x": {"datum": 0, "type": "quantitative"}, "y": {"field": "bar", "type": "nominal"}, "text": {"field": "cond"}, "color": {"value": "#1a7a50"}}}
    ]
   }
  ]
 }
]
}
